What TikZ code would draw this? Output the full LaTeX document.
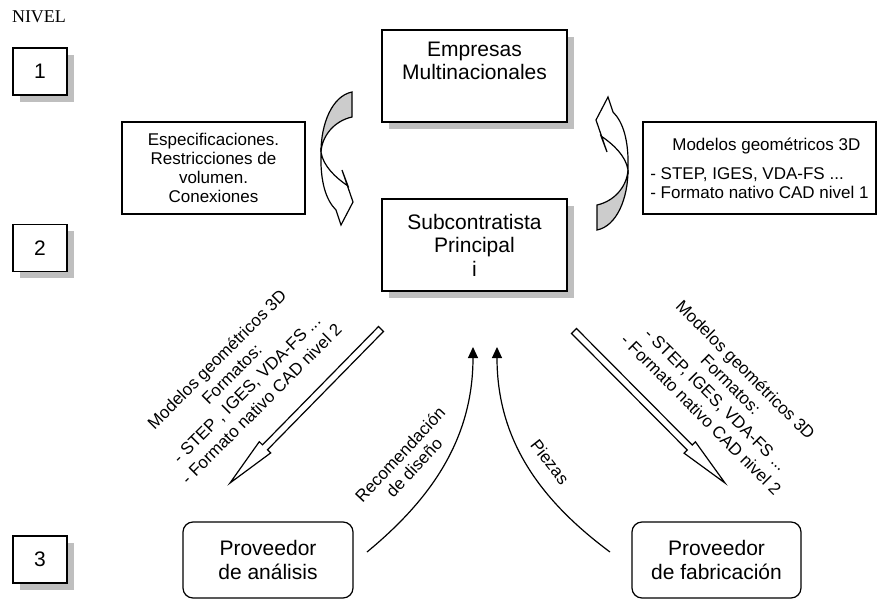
\documentclass[tikz,border=0pt]{standalone}
\usepackage{fontspec}
\setmainfont{Liberation Sans}
\newfontfamily\fuenteserif{Liberation Serif}
\usepackage{tikz}
\usetikzlibrary{arrows.meta}
\usetikzlibrary{shadows,calc}

\newcommand{\grande}{\fontsize{10.5}{11.8}\selectfont}
\newcommand{\chica}{\fontsize{8.5}{9.5}\selectfont}
\newcommand{\diag}{\fontsize{8.5}{10.5}\selectfont}

% flecha hueca recta de #1 a #2
\newcommand{\hueca}[2]{%
	\coordinate (cuello) at ($(#2)!25pt!(#1)$);
	\draw[line width=0.6pt, fill=white] ($(#1)!1.75pt!90:(#2)$) -- ($(cuello)!1.75pt!90:(#2)$) --
		($(cuello)!4pt!90:(#2)$) -- (#2) -- ($(cuello)!4pt!-90:(#2)$) --
		($(cuello)!1.75pt!-90:(#2)$) -- ($(#1)!1.75pt!-90:(#2)$) -- cycle;}

% flecha curva con cara gris
\newcommand{\curva}{%
	\draw[line width=0.6pt, fill=black!20] (352,92) .. controls (332,96) and (321,124) .. (321,152) ..
		controls (322,136) and (334,121) .. (352,117) -- cycle;
	\draw[line width=0.6pt, fill=white] (321,152) .. controls (320,182) and (326,200) .. (336,210) --
		(341,225) -- (353,202) -- (342,170) -- (348,186) .. controls (336,178) and (323,166) .. (321,152) -- cycle;}

\begin{document}
\begin{tikzpicture}[x=0.5pt, y=-0.5pt,
		caja/.style={draw, line width=0.6pt, fill=white, align=center, inner sep=0pt},
		sombra/.style={drop shadow={shadow xshift=3.25pt, shadow yshift=-3.25pt, fill=black!25, opacity=1}},
		flecha/.style={line width=0.6pt, -{Triangle[length=5.5pt, width=5pt]}}]
		\path[fill=white] (0,0) rectangle (880,600);
		
		% niveles
		\node[font=\fuenteserif\fontsize{9}{10}\selectfont] (nivel) at (39,17) {NIVEL};
		\node[caja, sombra, font=\grande, minimum width=27pt, minimum height=23.5pt] (n1) at (40,71.5) {1};
		\node[caja, sombra, font=\grande, minimum width=27pt, minimum height=23.5pt] (n2) at (40,248) {2};
		\node[caja, sombra, font=\grande, minimum width=27pt, minimum height=23.5pt] (n3) at (40,559.5) {3};
		
		% empresas
		\node[caja, sombra, font=\grande, minimum width=92.5pt, minimum height=46pt] (emp) at (474.5,76) {Empresas\\Multinacionales\\\strut};
		\node[caja, sombra, font=\grande, minimum width=92.5pt, minimum height=46pt] (sub) at (474.5,245) {Subcontratista\\Principal\\i};
		\node[caja, rounded corners=5pt, font=\grande, minimum width=85pt, minimum height=38pt] (anal) at (268,560) {Proveedor\\de análisis};
		\node[caja, rounded corners=5pt, font=\grande, minimum width=84.5pt, minimum height=38pt] (fab) at (716.5,560) {Proveedor\\de fabricación};
		
		% intercambio nivel 1 - nivel 2
		\node[caja, font=\chica, minimum width=91.5pt, minimum height=46pt] (esp) at (213.5,168)
			{Especificaciones.\\Restricciones de\\volumen.\\Conexiones};
		\node[caja, font=\chica, align=left, minimum width=116.5pt, minimum height=46pt] (mod) at (759.5,168)
			{\hspace*{11pt}Modelos geométricos 3D\\[5pt]- STEP, IGES, VDA-FS ...\\- Formato nativo CAD nivel 1};
		\curva
		\begin{scope}[rotate around={180:(474.5,161)}] \curva \end{scope}
		
		% nivel 2 - nivel 3
		\coordinate (a1) at (381,329); \coordinate (a2) at (230,483);
		\coordinate (b1) at (574,331); \coordinate (b2) at (725,483);
		\hueca{a1}{a2} \hueca{b1}{b2}
		\node[font=\diag, align=center, rotate=45] (tizq) at (239,381.5)
			{Modelos geométricos 3D\\Formatos:\\- STEP , IGES, VDA-FS ...\\- Formato nativo CAD nivel 2};
		\node[font=\diag, align=center, rotate=-45] (tder) at (723.5,392)
			{Modelos geométricos 3D\\Formatos:\\- STEP, IGES, VDA-FS ...\\- Formato nativo CAD nivel 2};
		
		\coordinate (rec0) at (367,552); \coordinate (rec1) at (473,347);
		\coordinate (pie0) at (610,552); \coordinate (pie1) at (497,347);
		\draw[flecha] (rec0) .. controls (430,500) and (473,440) .. (rec1);
		\draw[flecha] (pie0) .. controls (540,500) and (497,440) .. (pie1);
		\node[font=\chica, align=center, rotate=47] (rec) at (407,461) {Recomendación\\de diseño};
		\node[font=\chica, rotate=-52] (pie) at (550,462) {Piezas};
	\end{tikzpicture}
\end{document}
